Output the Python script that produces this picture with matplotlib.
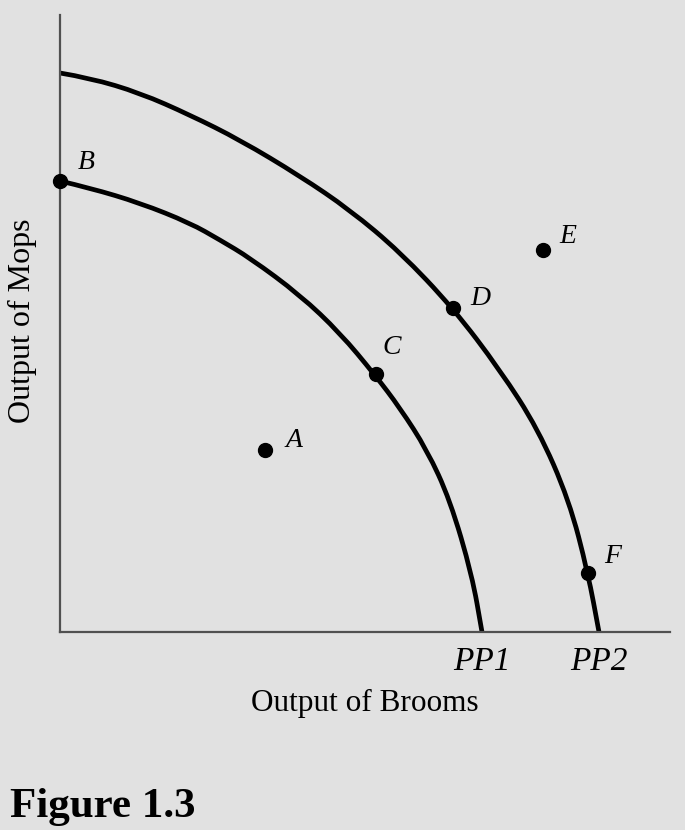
import matplotlib
matplotlib.use("Agg")
import matplotlib.pyplot as plt
from matplotlib.path import Path
from matplotlib.patches import PathPatch

# production possibility curves (brooms on x, mops on y)
pp1_x = [0, 30, 80, 130, 160, 190, 240, 280, 315, 340, 367, 390, 412, 422]
pp1_y = [451, 444, 429, 409, 392, 374, 337, 299, 257, 224, 182, 132, 57, 0]
pp2_x = [0, 30, 80, 130, 180, 240, 290, 340, 393, 440, 478, 509, 528, 539]
pp2_y = [559, 554, 539, 517, 492, 456, 422, 380, 324, 262, 203, 132, 59, 0]

pt_names = ['A', 'B', 'C', 'D', 'E', 'F']
pt_x = [205, 0, 316, 393, 483, 528]
pt_y = [182, 451, 258, 324, 382, 59]
# label offsets (points) from each dot
lab_dx = [21, 19, 11, 20, 18, 18]
lab_dy = [7, 13, 19, 7, 10, 12]

bg = '#e1e1e1'
serif = 'Liberation Serif'


def smooth_path(xs, ys):
    # quadratic bezier through the midpoints, read points act as control points
    verts = [(xs[0], ys[0])]
    codes = [Path.MOVETO]
    for i in range(1, len(xs) - 1):
        verts += [(xs[i], ys[i]), ((xs[i] + xs[i + 1]) / 2, (ys[i] + ys[i + 1]) / 2)]
        codes += [Path.CURVE3, Path.CURVE3]
    verts.append((xs[-1], ys[-1]))
    codes.append(Path.LINETO)
    return Path(verts, codes)


fig = plt.figure(figsize=(6.85, 8.3), dpi=100, facecolor=bg)
ax = fig.add_axes([60 / 685, 198 / 830, 625 / 685, 632 / 830])
ax.set_facecolor(bg)
ax.set_xlim(0, 625)
ax.set_ylim(0, 632)

for xs, ys in [(pp1_x, pp1_y), (pp2_x, pp2_y)]:
    ax.add_patch(PathPatch(smooth_path(xs, ys), facecolor='none', edgecolor='black',
                           lw=3.4, capstyle='butt', joinstyle='round'))
ax.plot(pt_x, pt_y, 'o', color='black', ms=10, clip_on=False, zorder=3)

for n, x, y, dx, dy in zip(pt_names, pt_x, pt_y, lab_dx, lab_dy):
    ax.annotate(n, (x, y), xytext=(dx, dy), textcoords='offset points',
                fontsize=20, style='italic', family=serif, ha='center', va='center')

ax.text(pp1_x[-1], -14, 'PP1', fontsize=24, style='italic', family=serif, ha='center', va='top')
ax.text(pp2_x[-1], -14, 'PP2', fontsize=24, style='italic', family=serif, ha='center', va='top')

for s in ['top', 'right']:
    ax.spines[s].set_visible(False)
ax.spines['left'].set_bounds(0, 617)
ax.spines['bottom'].set_bounds(0, 610)
for s in ['left', 'bottom']:
    ax.spines[s].set_color('#505050')
    ax.spines[s].set_linewidth(1.6)
ax.set_xticks([])
ax.set_yticks([])

fig.text(365 / 685, 1 - 703 / 830, 'Output of Brooms', fontsize=22.5, family=serif, ha='center', va='center')
fig.text(22 / 685, 1 - 321 / 830, 'Output of Mops', fontsize=23, family=serif, rotation=90, ha='center', va='center')
fig.text(10 / 685, 1 - 807 / 830, 'Figure 1.3', fontsize=31, family=serif, weight='bold', ha='left', va='center')

plt.savefig('out.png', dpi=100, facecolor=bg)
